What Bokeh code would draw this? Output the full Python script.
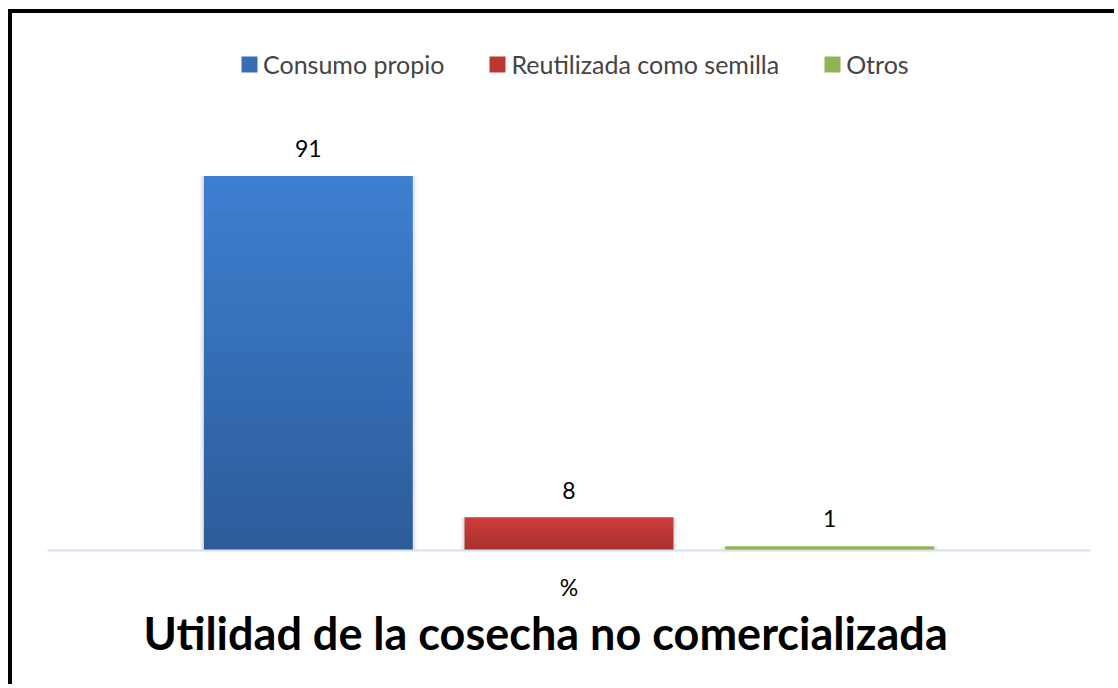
from bokeh.plotting import figure
from bokeh.models import ColumnDataSource, Legend, LegendItem, FixedTicker, Range1d, Title
from bokeh.core.properties import value
from bokeh.embed import file_html
from bokeh.resources import INLINE
import numpy as np

# ---- data ----
series = ["Consumo propio", "Reutilizada como semilla", "Otros"]
values = [91, 8, 1]
category = "%"
title_text = "Utilidad de la cosecha no comercializada"
top_colors = ["#3d80d1", "#d4403d", "#9bbb59"]
bottom_colors = ["#2c5b98", "#a02e2c", "#8aaa4a"]
mid_colors = ["#356ebc", "#ba3735", "#93b352"]

FONT = "Lato"

def hex2rgb(h):
    h = h.lstrip("#")
    return np.array([int(h[i:i + 2], 16) for i in (0, 2, 4)], dtype=float)

def rgb2hex(c):
    return "#%02x%02x%02x" % tuple(int(round(v)) for v in c)

positions = [i - 1 for i in range(len(series))]
BAR_W = 0.8

# gradient slices for each bar (derived from the values)
xs, bots, tops, cols = [], [], [], []
n_slices = 40
for pos, v, ct, cb in zip(positions, values, top_colors, bottom_colors):
    edges = np.linspace(0, v, n_slices + 1)
    c1, c2 = hex2rgb(ct), hex2rgb(cb)
    for k in range(n_slices):
        t = (edges[k] + edges[k + 1]) / 2 / v  # 0 bottom -> 1 top
        xs.append(pos)
        bots.append(edges[k])
        tops.append(edges[k + 1])
        cols.append(rgb2hex(c2 + (c1 - c2) * t))

src = ColumnDataSource(dict(x=xs, bottom=bots, top=tops, color=cols))
base = ColumnDataSource(dict(x=positions, top=values, color=mid_colors))

p = figure(width=1106, height=675, output_backend="svg", toolbar_location=None,
           x_range=Range1d(-2, 2), y_range=Range1d(0, 123.9),
           min_border_left=35, min_border_right=28, min_border_top=27,
           min_border_bottom=138)
p.styles = {"border-top": "4px solid black", "border-left": "4px solid black",
            "margin-left": "8px", "margin-top": "9px"}
p.outline_line_color = None
p.xgrid.visible = False
p.ygrid.visible = False
p.yaxis.visible = False

# soft shadow behind bars
p.vbar(x="x", top="top", bottom=-0.5, width=BAR_W + 0.03, source=base,
       fill_color="#000000", fill_alpha=0.05, line_color=None)
p.vbar(x="x", top="top", bottom=-0.3, width=BAR_W + 0.015, source=base,
       fill_color="#000000", fill_alpha=0.06, line_color=None)

# base bar + gradient slices
p.vbar(x="x", top="top", width=BAR_W, source=base, fill_color="color", line_color=None)
r = p.vbar(x="x", bottom="bottom", top="top", width=BAR_W, fill_color="color",
           line_color=None, source=src)

# data labels
lab = ColumnDataSource(dict(x=positions, y=values, t=[str(v) for v in values]))
p.text(x="x", y="y", text="t", source=lab, text_align="center", text_baseline="bottom",
       y_offset=-19, text_font=value(FONT), text_font_size="23px", text_color="#000000")

# x axis
ax = p.xaxis[0]
ax.ticker = FixedTicker(ticks=[0])
ax.major_label_overrides = {0: category}
ax.major_label_text_font = FONT
ax.major_label_text_font_size = "23px"
ax.major_label_text_color = "#000000"
ax.major_label_standoff = 16
ax.major_tick_line_color = None
ax.minor_tick_line_color = None
ax.axis_line_color = "#d3e0ee"
ax.axis_line_width = 2

# legend
idx = [i * n_slices + n_slices // 2 for i in range(len(series))]
items = [LegendItem(label=s, renderers=[r], index=j) for s, j in zip(series, idx)]
legend = Legend(items=items, orientation="horizontal", location=(192, 471),
                label_text_font=FONT, label_text_font_size="25px",
                glyph_width=20, glyph_height=20, label_standoff=4, spacing=43,
                padding=0, margin=0, border_line_color=None,
                background_fill_alpha=0)
p.add_layout(legend, "center")

# bottom title
t = Title(text=title_text, align="left", offset=96, text_font=FONT,
          text_font_size="45px", text_font_style="bold", text_color="#000000",
          standoff=0)
p.add_layout(t, "below")

open("out.html", "w").write(file_html(p, INLINE))
